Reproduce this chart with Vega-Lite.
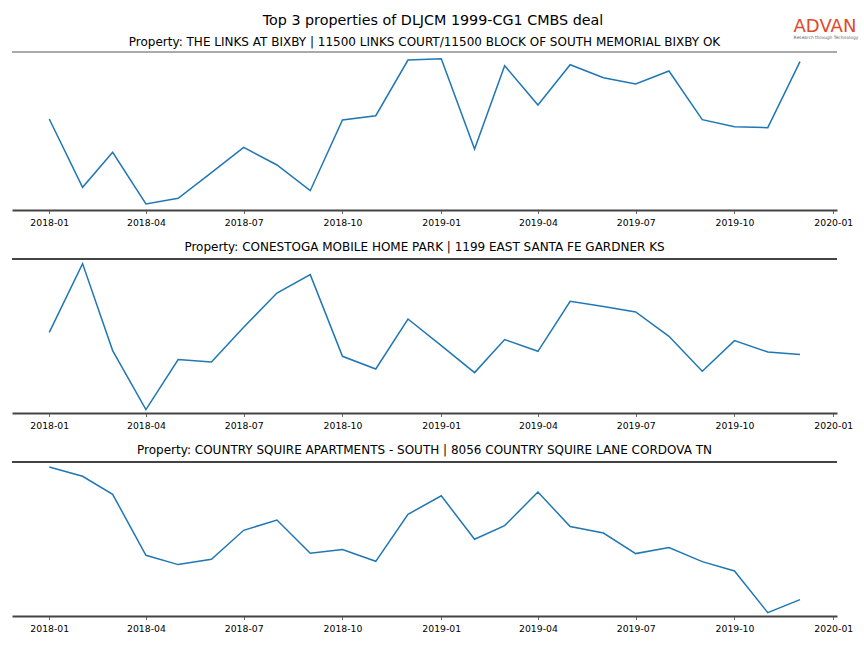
{
  "$schema": "https://vega.github.io/schema/vega-lite/v6.json",
  "background": "white",
  "padding": {"left": 11, "top": 14, "right": 0, "bottom": 5},
  "title": {"text": "Top 3 properties of DLJCM 1999-CG1 CMBS deal", "fontSize": 14.3, "font": "DejaVu Sans", "fontWeight": "normal", "color": "black", "anchor": "middle", "frame": "group", "dx": 8.5, "offset": -11},
  "config": {
    "view": {"stroke": null},
    "font": "DejaVu Sans",
    "title": {"font": "DejaVu Sans", "fontSize": 12, "fontWeight": "normal", "color": "black", "offset": 4},
    "axis": {"domainColor": "#444", "domainWidth": 1.8, "tickColor": "#444", "tickSize": 3.5, "tickWidth": 0.8, "labelFontSize": 9.3, "labelColor": "black", "labelFont": "DejaVu Sans", "labelPadding": 4.5, "grid": false, "title": null, "labelFlush": false, "labelOverlap": false, "labelBound": false}
  },
  "datasets": {
    "links": [
      {"month": "2018-01-01", "value": 91}, {"month": "2018-02-01", "value": 22.7}, {"month": "2018-03-01", "value": 57.7}, {"month": "2018-04-01", "value": 6},
      {"month": "2018-05-01", "value": 11.7}, {"month": "2018-06-01", "value": 37.3}, {"month": "2018-07-01", "value": 62.7}, {"month": "2018-08-01", "value": 45},
      {"month": "2018-09-01", "value": 19.3}, {"month": "2018-10-01", "value": 90}, {"month": "2018-11-01", "value": 94.3}, {"month": "2018-12-01", "value": 150},
      {"month": "2019-01-01", "value": 151.3}, {"month": "2019-02-01", "value": 61}, {"month": "2019-03-01", "value": 144.3}, {"month": "2019-04-01", "value": 105},
      {"month": "2019-05-01", "value": 145.3}, {"month": "2019-06-01", "value": 132.3}, {"month": "2019-07-01", "value": 126}, {"month": "2019-08-01", "value": 139},
      {"month": "2019-09-01", "value": 90.3}, {"month": "2019-10-01", "value": 83.3}, {"month": "2019-11-01", "value": 82.3}, {"month": "2019-12-01", "value": 148.3}
    ],
    "conestoga": [
      {"month": "2018-01-01", "value": 80.7}, {"month": "2018-02-01", "value": 149.4}, {"month": "2018-03-01", "value": 62.4}, {"month": "2018-04-01", "value": 3.4},
      {"month": "2018-05-01", "value": 53.4}, {"month": "2018-06-01", "value": 51}, {"month": "2018-07-01", "value": 85.7}, {"month": "2018-08-01", "value": 120},
      {"month": "2018-09-01", "value": 138.4}, {"month": "2018-10-01", "value": 56.7}, {"month": "2018-11-01", "value": 44}, {"month": "2018-12-01", "value": 94},
      {"month": "2019-01-01", "value": 67.4}, {"month": "2019-02-01", "value": 40.4}, {"month": "2019-03-01", "value": 73.4}, {"month": "2019-04-01", "value": 61.7},
      {"month": "2019-05-01", "value": 111.7}, {"month": "2019-06-01", "value": 106.4}, {"month": "2019-07-01", "value": 101}, {"month": "2019-08-01", "value": 76.7},
      {"month": "2019-09-01", "value": 41.7}, {"month": "2019-10-01", "value": 72.4}, {"month": "2019-11-01", "value": 61}, {"month": "2019-12-01", "value": 58.4}
    ],
    "country": [
      {"month": "2018-01-01", "value": 149}, {"month": "2018-02-01", "value": 139.7}, {"month": "2018-03-01", "value": 121.7}, {"month": "2018-04-01", "value": 60.7},
      {"month": "2018-05-01", "value": 51.4}, {"month": "2018-06-01", "value": 56.7}, {"month": "2018-07-01", "value": 85.7}, {"month": "2018-08-01", "value": 96},
      {"month": "2018-09-01", "value": 62.7}, {"month": "2018-10-01", "value": 66.4}, {"month": "2018-11-01", "value": 54.7}, {"month": "2018-12-01", "value": 101.7},
      {"month": "2019-01-01", "value": 120.2}, {"month": "2019-02-01", "value": 76.7}, {"month": "2019-03-01", "value": 90.4}, {"month": "2019-04-01", "value": 124},
      {"month": "2019-05-01", "value": 89.4}, {"month": "2019-06-01", "value": 83}, {"month": "2019-07-01", "value": 62.4}, {"month": "2019-08-01", "value": 68.4},
      {"month": "2019-09-01", "value": 54.4}, {"month": "2019-10-01", "value": 45}, {"month": "2019-11-01", "value": 3.4}, {"month": "2019-12-01", "value": 16.4}
    ]
  },
  "spacing": 49,
  "bounds": "flush",
  "vconcat": [
    {
      "width": 825, "height": 158,
      "title": {"text": "Property: THE LINKS AT BIXBY | 11500 LINKS COURT/11500 BLOCK OF SOUTH MEMORIAL BIXBY OK", "offset": -31},
      "layer": [
        {
          "data": {"name": "links"},
          "mark": {"type": "line", "color": "#1f77b4", "strokeWidth": 1.5},
          "encoding": {
            "x": {"field": "month", "type": "temporal",
                  "scale": {"type": "utc", "domain": [{"year": 2017, "month": 11, "date": 27, "hours": 7, "utc": true}, {"year": 2020, "month": 1, "date": 4, "hours": 11, "utc": true}]},
                  "axis": {"format": "%Y-%m", "values": [{"year": 2018, "month": 1, "date": 1, "utc": true}, {"year": 2018, "month": 4, "date": 1, "utc": true}, {"year": 2018, "month": 7, "date": 1, "utc": true}, {"year": 2018, "month": 10, "date": 1, "utc": true}, {"year": 2019, "month": 1, "date": 1, "utc": true}, {"year": 2019, "month": 4, "date": 1, "utc": true}, {"year": 2019, "month": 7, "date": 1, "utc": true}, {"year": 2019, "month": 10, "date": 1, "utc": true}, {"year": 2020, "month": 1, "date": 1, "utc": true}]}},
            "y": {"field": "value", "type": "quantitative", "scale": {"domain": [0, 158], "nice": false, "zero": false}, "axis": null}
          }
        },
        {
          "data": {"values": [{}]},
          "mark": {"type": "rule", "color": "#555", "strokeWidth": 1},
          "encoding": {"y": {"datum": 158}}
        },
        {
          "data": {"values": [{}]},
          "mark": {"type": "text", "text": "ADVAN", "align": "left", "baseline": "alphabetic", "fontSize": 18, "font": "DejaVu Sans", "color": "#E2492A"},
          "encoding": {"x": {"datum": {"year": 2019, "month": 11, "date": 25, "utc": true}}, "y": {"datum": 178.3}}
        },
        {
          "data": {"values": [{}]},
          "mark": {"type": "text", "text": "Research through Technology", "align": "left", "baseline": "alphabetic", "fontSize": 4.4, "font": "DejaVu Sans", "color": "#666"},
          "encoding": {"x": {"datum": {"year": 2019, "month": 11, "date": 25, "utc": true}}, "y": {"datum": 171.5}}
        }
      ]
    },
    {
      "width": 825, "height": 154,
      "title": "Property: CONESTOGA MOBILE HOME PARK | 1199 EAST SANTA FE GARDNER KS",
      "layer": [
        {
          "data": {"name": "conestoga"},
          "mark": {"type": "line", "color": "#1f77b4", "strokeWidth": 1.5},
          "encoding": {
            "x": {"field": "month", "type": "temporal",
                  "scale": {"type": "utc", "domain": [{"year": 2017, "month": 11, "date": 27, "hours": 7, "utc": true}, {"year": 2020, "month": 1, "date": 4, "hours": 11, "utc": true}]},
                  "axis": {"format": "%Y-%m", "values": [{"year": 2018, "month": 1, "date": 1, "utc": true}, {"year": 2018, "month": 4, "date": 1, "utc": true}, {"year": 2018, "month": 7, "date": 1, "utc": true}, {"year": 2018, "month": 10, "date": 1, "utc": true}, {"year": 2019, "month": 1, "date": 1, "utc": true}, {"year": 2019, "month": 4, "date": 1, "utc": true}, {"year": 2019, "month": 7, "date": 1, "utc": true}, {"year": 2019, "month": 10, "date": 1, "utc": true}, {"year": 2020, "month": 1, "date": 1, "utc": true}]}},
            "y": {"field": "value", "type": "quantitative", "scale": {"domain": [0, 154], "nice": false, "zero": false}, "axis": null}
          }
        },
        {
          "data": {"values": [{}]},
          "mark": {"type": "rule", "color": "#444", "strokeWidth": 1.8},
          "encoding": {"y": {"datum": 154}}
        }
      ]
    },
    {
      "width": 825, "height": 154,
      "title": "Property: COUNTRY SQUIRE APARTMENTS - SOUTH | 8056 COUNTRY SQUIRE LANE CORDOVA TN",
      "layer": [
        {
          "data": {"name": "country"},
          "mark": {"type": "line", "color": "#1f77b4", "strokeWidth": 1.5},
          "encoding": {
            "x": {"field": "month", "type": "temporal",
                  "scale": {"type": "utc", "domain": [{"year": 2017, "month": 11, "date": 27, "hours": 7, "utc": true}, {"year": 2020, "month": 1, "date": 4, "hours": 11, "utc": true}]},
                  "axis": {"format": "%Y-%m", "values": [{"year": 2018, "month": 1, "date": 1, "utc": true}, {"year": 2018, "month": 4, "date": 1, "utc": true}, {"year": 2018, "month": 7, "date": 1, "utc": true}, {"year": 2018, "month": 10, "date": 1, "utc": true}, {"year": 2019, "month": 1, "date": 1, "utc": true}, {"year": 2019, "month": 4, "date": 1, "utc": true}, {"year": 2019, "month": 7, "date": 1, "utc": true}, {"year": 2019, "month": 10, "date": 1, "utc": true}, {"year": 2020, "month": 1, "date": 1, "utc": true}]}},
            "y": {"field": "value", "type": "quantitative", "scale": {"domain": [0, 154], "nice": false, "zero": false}, "axis": null}
          }
        },
        {
          "data": {"values": [{}]},
          "mark": {"type": "rule", "color": "#444", "strokeWidth": 1.8},
          "encoding": {"y": {"datum": 154}}
        }
      ]
    }
  ]
}
